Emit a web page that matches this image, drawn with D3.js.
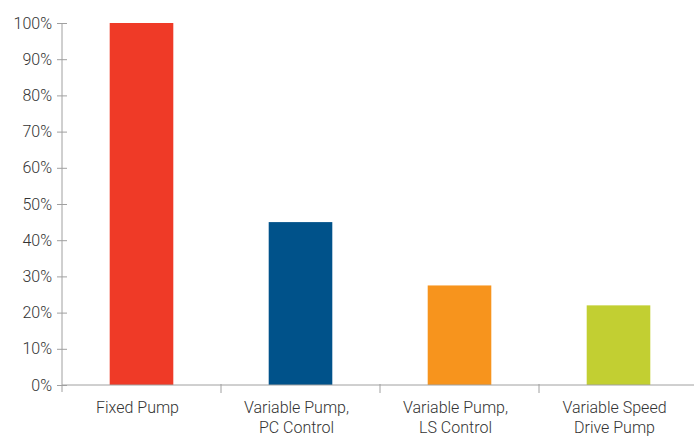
<!DOCTYPE html>
<html>
<head>
<meta charset="utf-8">
<script src="https://cdn.jsdelivr.net/npm/d3@7"></script>
<style>
  body { margin: 0; background: #fff; }
  text { font-family: Roboto, "Liberation Sans", Arial, sans-serif; font-weight: 300; fill: #333; }
</style>
</head>
<body>
<div id="chart"></div>
<script>
// chart data
var categories = ["Fixed Pump", "Variable Pump, PC Control", "Variable Pump, LS Control", "Variable Speed Drive Pump"];
var labelLines = [["Fixed Pump"], ["Variable Pump,", "PC Control"], ["Variable Pump,", "LS Control"], ["Variable Speed", "Drive Pump"]];
var values = [100, 45, 27.5, 22];
var colors = ["#ef3a27", "#00528a", "#f7941d", "#c2cf32"];
var yTicks = [0, 10, 20, 30, 40, 50, 60, 70, 80, 90, 100];

var width = 694, height = 438;
var margin = {top: 23, right: -4, bottom: 53, left: 62};

var svg = d3.select("#chart").append("svg")
    .attr("width", width)
    .attr("height", height);

var x = d3.scaleBand()
    .domain(categories)
    .range([margin.left, width - margin.right])
    .paddingInner(0.6)
    .paddingOuter(0.3);

var xEdges = d3.scaleBand()
    .domain(categories)
    .range([margin.left, width - margin.right]);

var y = d3.scaleLinear()
    .domain([0, 100])
    .range([height - margin.bottom, margin.top]);

// bars
svg.selectAll("rect.bar")
    .data(values)
    .enter().append("rect")
    .attr("class", "bar")
    .attr("x", (d, i) => x(categories[i]))
    .attr("width", x.bandwidth())
    .attr("y", d => y(d))
    .attr("height", d => y(0) - y(d))
    .attr("fill", (d, i) => colors[i]);

// y axis
var yAxis = svg.append("g")
    .attr("transform", "translate(" + margin.left + ",0)")
    .call(d3.axisLeft(y).tickValues(yTicks).tickFormat(d => d + "%").tickSize(5).tickSizeOuter(0));
yAxis.select(".domain").attr("stroke", "#a0a0a0")
    .attr("d", "M0," + y(100) + "V" + (y(0) + 7));
yAxis.selectAll(".tick line").attr("stroke", "#a0a0a0").attr("x1", 5).attr("x2", -5);
yAxis.selectAll(".tick text")
    .attr("x", -10)
    .style("font-size", "16px")
    .style("font-family", "Roboto, Liberation Sans, Arial, sans-serif")
    .style("font-weight", 300)
    .attr("fill", "#333");

// x axis line and separators
var xg = svg.append("g");
xg.append("line")
    .attr("x1", margin.left).attr("x2", width)
    .attr("y1", y(0)).attr("y2", y(0))
    .attr("stroke", "#a0a0a0");
xg.selectAll("line.sep")
    .data(categories.slice(1))
    .enter().append("line")
    .attr("class", "sep")
    .attr("x1", d => xEdges(d)).attr("x2", d => xEdges(d))
    .attr("y1", y(0) - 1).attr("y2", y(0) + 8)
    .attr("stroke", "#a0a0a0");

// category labels
var lab = svg.selectAll("text.cat")
    .data(labelLines)
    .enter().append("text")
    .attr("class", "cat")
    .attr("text-anchor", "middle")
    .style("font-size", "16px")
    .attr("transform", (d, i) => "translate(" + (xEdges(categories[i]) + xEdges.bandwidth() / 2 - 4) + "," + (y(0) + 28) + ")");
lab.selectAll("tspan")
    .data(d => d)
    .enter().append("tspan")
    .attr("x", 0)
    .attr("dy", (d, i) => i === 0 ? 0 : 20)
    .text(d => d);
</script>
</body>
</html>
